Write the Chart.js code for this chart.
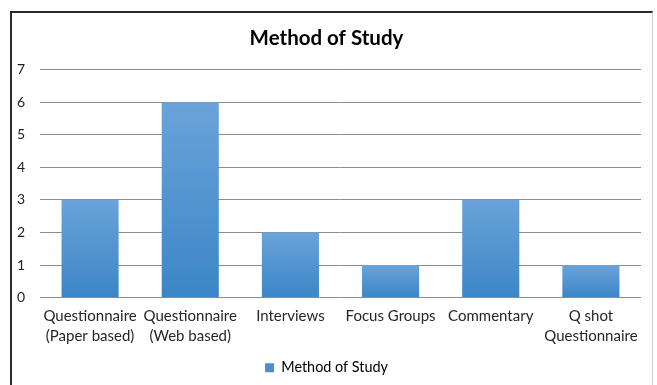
<!DOCTYPE html>
<html>
<head>
<meta charset="utf-8">
<script src="https://cdn.jsdelivr.net/npm/chart.js@4"></script>
<style>
  html, body { margin: 0; padding: 0; background: #fff; overflow: hidden; }
  #frame {
    position: absolute; left: 10px; top: 11px; width: 640px; height: 380px;
    border-top: 2px solid #2a2a2a; border-left: 2px solid #2a2a2a; border-right: 1px solid #cfcfcf;
  }
  #wrap { position: absolute; left: 12px; top: 13px; width: 639px; height: 372px; }
</style>
</head>
<body>
<div id="frame"></div>
<div id="wrap"><canvas id="chart"></canvas></div>
<script>
// data
const categories = [
    ['Questionnaire', '(Paper based)'],
    ['Questionnaire', '(Web based)'],
    'Interviews',
    'Focus Groups',
    'Commentary',
    ['Q shot', 'Questionnaire']
];
const studyCounts = [3, 6, 2, 1, 3, 1];
const seriesName = 'Method of Study';
const chartTitle = 'Method of Study';
const yTicks = [0, 1, 2, 3, 4, 5, 6, 7];

const FONT = 'Lato, "Liberation Sans", sans-serif';

// each bar gets its own top-to-bottom gradient, like the office chart
function barFill(context) {
    const chart = context.chart;
    const y = chart.scales && chart.scales.y;
    if (!y || context.type !== 'data' || !chart.chartArea) return '#4a90d0';
    const top = y.getPixelForValue(context.raw);
    const bottom = y.getPixelForValue(0);
    const g = chart.ctx.createLinearGradient(0, top, 0, bottom);
    g.addColorStop(0, '#6aa3d9');
    g.addColorStop(1, '#3b86c7');
    return g;
}

new Chart(document.getElementById('chart'), {
    type: 'bar',
    data: {
        labels: categories,
        datasets: [{
            label: seriesName,
            data: studyCounts,
            backgroundColor: barFill,
            borderWidth: 0,
            categoryPercentage: 1,
            barPercentage: 0.57
        }]
    },
    options: {
        responsive: true,
        maintainAspectRatio: false,
        animation: false,
        layout: { padding: { left: 0, right: 10, top: 0, bottom: 0 } },
        plugins: {
            title: {
                display: true,
                text: chartTitle,
                color: '#000',
                font: { family: FONT, size: 20.5, weight: 'bold' },
                padding: { top: 13, bottom: 19 }
            },
            legend: {
                position: 'bottom',
                labels: {
                    color: '#262626',
                    boxWidth: 9,
                    boxHeight: 9,
                    padding: 10,
                    font: { family: FONT, size: 14.4 },
                    generateLabels: (chart) => [{
                        text: seriesName,
                        fillStyle: '#4a90d0',
                        strokeStyle: '#4a90d0',
                        lineWidth: 0,
                        datasetIndex: 0
                    }]
                }
            },
            tooltip: { enabled: false }
        },
        scales: {
            x: {
                grid: { display: false, drawTicks: false },
                border: { display: false },
                ticks: {
                    color: '#262626',
                    padding: 9,
                    maxRotation: 0,
                    autoSkip: false,
                    font: { family: FONT, size: 15, lineHeight: 1.32 }
                },
                afterFit: (scale) => { scale.height = 53; }
            },
            y: {
                min: 0,
                max: 7,
                afterBuildTicks: (scale) => { scale.ticks = yTicks.map(v => ({ value: v })); },
                grid: { color: '#8c8c8c', lineWidth: 1, drawTicks: false },
                border: { display: false },
                ticks: {
                    color: '#1e1e1e',
                    padding: 15,
                    font: { family: FONT, size: 14 }
                },
                afterFit: (scale) => { scale.width = 28; }
            }
        }
    }
});
</script>
</body>
</html>
